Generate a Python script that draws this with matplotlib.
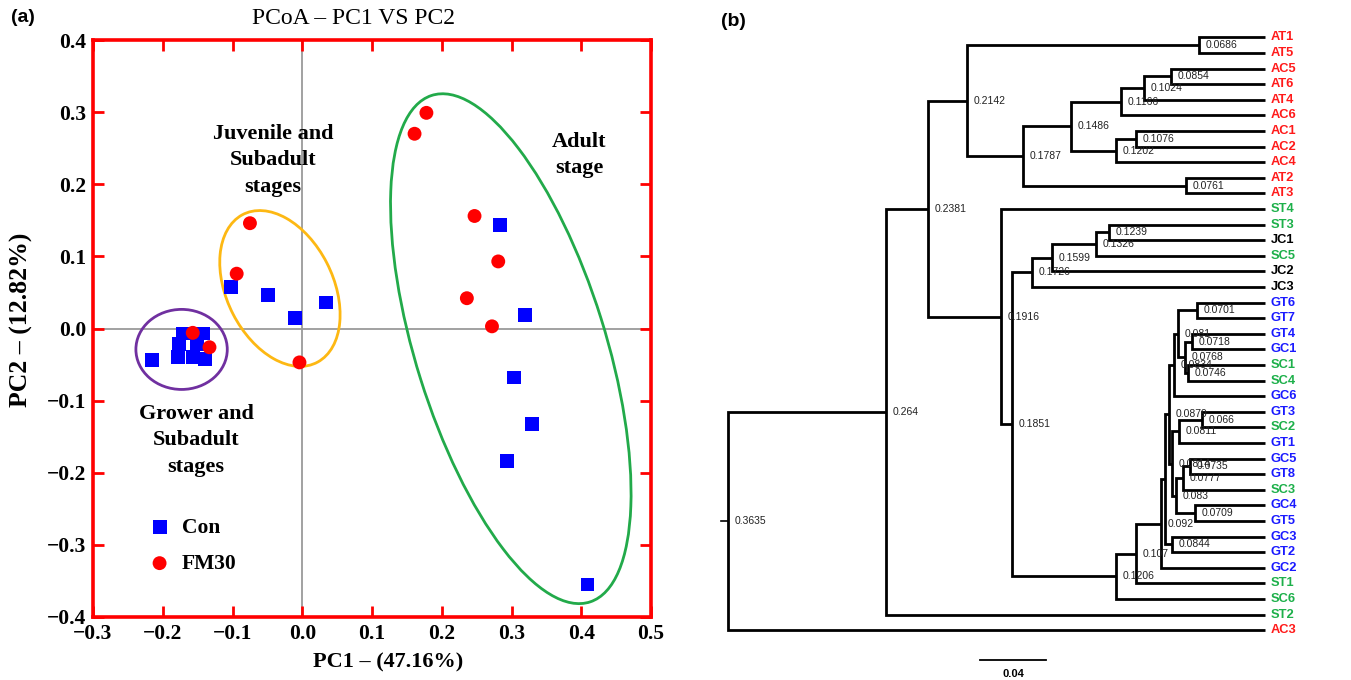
import matplotlib
matplotlib.use("Agg")
import matplotlib.pyplot as plt
from matplotlib.patches import Ellipse

W, H = 1351, 680
fig = plt.figure(figsize=(W / 100, H / 100), dpi=100)

SERIF = ["Liberation Serif", "DejaVu Serif"]
SANS = ["Liberation Sans", "DejaVu Sans"]

# ---------------- Panel (a) data ----------------
con_pc1 = [-0.215, -0.171, -0.142, -0.177, -0.151, -0.178, -0.156, -0.139,
           -0.102, -0.049, -0.010, 0.034,
           0.284, 0.319, 0.303, 0.329, 0.293, 0.409]
con_pc2 = [-0.044, -0.007, -0.007, -0.021, -0.021, -0.040, -0.040, -0.042,
           0.058, 0.047, 0.015, 0.036,
           0.144, 0.019, -0.068, -0.133, -0.184, -0.355]
fm_pc1 = [-0.157, -0.133, -0.075, -0.094, -0.004,
          0.161, 0.178, 0.247, 0.281, 0.236, 0.272]
fm_pc2 = [-0.006, -0.026, 0.146, 0.076, -0.047,
          0.270, 0.299, 0.156, 0.093, 0.042, 0.003]

x_ticks = [-0.3, -0.2, -0.1, 0.0, 0.1, 0.2, 0.3, 0.4, 0.5]
x_tick_labels = ["\u22120.3", "\u22120.2", "\u22120.1", "0.0", "0.1", "0.2", "0.3", "0.4", "0.5"]
y_ticks = [-0.4, -0.3, -0.2, -0.1, 0.0, 0.1, 0.2, 0.3, 0.4]
y_tick_labels = ["\u22120.4", "\u22120.3", "\u22120.2", "\u22120.1", "0.0", "0.1", "0.2", "0.3", "0.4"]

group_names = ["Grower and\nSubadult\nstages", "Juvenile and\nSubadult\nstages", "Adult\nstage"]
group_cx = [-0.173, -0.032, 0.299]
group_cy = [-0.029, 0.0555, -0.028]
group_w = [0.131, 0.231, 0.738]
group_h = [0.111, 0.152, 0.272]
group_angle = [0, -62, -72]
group_colors = ["#7030A0", "#FDB813", "#22AA4A"]
group_text_x = [-0.152, -0.042, 0.397]
group_text_y = [-0.155, 0.233, 0.241]

axL, axR, axT, axB = 93, 651, 40, 617
ax = fig.add_axes([axL / W, (H - axB) / H, (axR - axL) / W, (axB - axT) / H])
ax.set_xlim(-0.3, 0.5)
ax.set_ylim(-0.4, 0.4)
ax.axvline(0, color="#9a9a9a", lw=1.3, zorder=1)
ax.axhline(0, color="#9a9a9a", lw=1.3, zorder=1)

for cx, cy, w, h, a, c in zip(group_cx, group_cy, group_w, group_h, group_angle, group_colors):
    ax.add_patch(Ellipse((cx, cy), w, h, angle=a, fill=False, edgecolor=c, lw=2.0, zorder=2))

ax.scatter(con_pc1, con_pc2, marker="s", s=100, color="#0000FF", edgecolors="none", zorder=3, label="Con")
ax.scatter(fm_pc1, fm_pc2, marker="o", s=100, color="#FF0000", edgecolors="none", zorder=4, label="FM30")

for t, tx, ty in zip(group_names, group_text_x, group_text_y):
    ax.text(tx, ty, t, ha="center", va="center", family=SERIF, fontweight="bold",
            fontsize=16, linespacing=1.42)

ax.set_xticks(x_ticks)
ax.set_xticklabels(x_tick_labels)
ax.set_yticks(y_ticks)
ax.set_yticklabels(y_tick_labels)
ax.tick_params(direction="in", length=8, width=2, color="#FF0000", top=True, right=True, pad=5)
for lab in ax.get_xticklabels() + ax.get_yticklabels():
    lab.set_family(SERIF)
    lab.set_fontweight("bold")
    lab.set_fontsize(15.5)
for sp in ax.spines.values():
    sp.set_color("#FF0000")
    sp.set_linewidth(2.6)

ax.legend(loc="upper left", bbox_to_anchor=(0.046, 0.206), frameon=False,
          prop={"family": SERIF, "weight": "bold", "size": 15.5},
          handletextpad=0.05, labelspacing=0.75, scatterpoints=1)

fig.text(353 / W, 1 - 18 / H, "PCoA \u2013 PC1 VS PC2", ha="center", va="center",
         family=SERIF, fontsize=17)
fig.text(388 / W, 1 - 662 / H, "PC1 \u2013 (47.16%)", ha="center", va="center",
         family=SERIF, fontweight="bold", fontsize=16)
fig.text(21 / W, 1 - 320 / H, "PC2 \u2013 (12.82%)", ha="center", va="center", rotation=90,
         family=SERIF, fontweight="bold", fontsize=18.5)
fig.text(23 / W, 1 - 18 / H, "(a)", ha="center", va="center", family=SANS,
         fontweight="bold", fontsize=14)
fig.text(733 / W, 1 - 22 / H, "(b)", ha="center", va="center", family=SANS,
         fontweight="bold", fontsize=14)

# ---------------- Panel (b) data ----------------
leaves = ["AT1", "AT5", "AC5", "AT6", "AT4", "AC6", "AC1", "AC2", "AC4", "AT2", "AT3",
          "ST4", "ST3", "JC1", "SC5", "JC2", "JC3",
          "GT6", "GT7", "GT4", "GC1", "SC1", "SC4", "GC6", "GT3", "SC2", "GT1", "GC5",
          "GT8", "SC3", "GC4", "GT5", "GC3", "GT2", "GC2", "ST1", "SC6", "ST2", "AC3"]
leaf_group_colors = {"A": "#FF1A1A", "S": "#1DB04A", "J": "#000000", "G": "#1A1AFF"}

node_names = ["n0686", "n0854", "n1024", "n1166", "n1076", "n1202", "n1486", "n0761",
              "n1787", "n2142", "n1239", "n1326", "n1599", "n1726",
              "t0701", "t0718", "t0746", "t0768", "t081", "t0834", "t066", "t0811",
              "n0735", "n0777", "n0709", "n083", "z0814", "t0879", "n0844", "w",
              "n092", "n107", "n1206", "n1851", "n1916", "n2381", "n264", "root"]
node_left = ["AT1", "AC5", "n0854", "n1024", "AC1", "n1076", "n1166", "AT2",
             "n1486", "n0686", "ST3", "n1239", "n1326", "n1599",
             "GT6", "GT4", "SC1", "t0718", "t0701", "t081", "GT3", "t066",
             "GC5", "n0735", "GC4", "n0777", "t0811", "t0834", "GC3", "t0879",
             "w", "n092", "n107", "n1726", "ST4", "n2142", "n2381", "n264"]
node_right = ["AT5", "AT6", "AT4", "AC6", "AC2", "AC4", "n1202", "AT3",
              "n0761", "n1787", "JC1", "SC5", "JC2", "JC3",
              "GT7", "GC1", "SC4", "t0746", "t0768", "GC6", "SC2", "GT1",
              "GT8", "SC3", "GT5", "n0709", "n083", "z0814", "GT2", "n0844",
              "GC2", "ST1", "SC6", "n1206", "n1851", "n1916", "ST2", "AC3"]
node_height = [0.0400, 0.0570, 0.0733, 0.0873, 0.0782, 0.0903, 0.1176, 0.0479,
               0.1467, 0.1806, 0.0945, 0.1024, 0.1291, 0.1412,
               0.0412, 0.0442, 0.0467, 0.0485, 0.0527, 0.0552, 0.0382, 0.0521,
               0.0455, 0.0497, 0.0424, 0.0539, 0.0564, 0.0582, 0.0564, 0.0606,
               0.0630, 0.0782, 0.0903, 0.1533, 0.1600, 0.2042, 0.2297, 0.3255]
node_label = ["0.0686", "0.0854", "0.1024", "0.1166", "0.1076", "0.1202", "0.1486", "0.0761",
              "0.1787", "0.2142", "0.1239", "0.1326", "0.1599", "0.1726",
              "0.0701", "0.0718", "0.0746", "0.0768", "0.081", "0.0834", "0.066", "0.0811",
              "0.0735", "0.0777", "0.0709", "0.083", "0.0814", "0.0879", "0.0844", "",
              "0.092", "0.107", "0.1206", "0.1851", "0.1916", "0.2381", "0.264", "0.3635"]
root_stub = 0.004
scale_bar_length = 0.04
scale_bar_label = "0.04"

tipx, px_unit, row0, row_h = 1265, 1650.0, 37.5, 15.6
bx0 = 700
ax2 = fig.add_axes([bx0 / W, 0, (tipx - bx0) / W, 1])
ax2.set_xlim((tipx - bx0) / px_unit, 0)
ax2.set_ylim((H - row0) / row_h, -row0 / row_h)
ax2.axis("off")

pos_y = {name: i for i, name in enumerate(leaves)}
pos_h = {name: 0.0 for name in leaves}
for nm, l, r, h in zip(node_names, node_left, node_right, node_height):
    pos_y[nm] = (pos_y[l] + pos_y[r]) / 2.0
    pos_h[nm] = h

lw_tree = 2.0
for nm, l, r, h, lab in zip(node_names, node_left, node_right, node_height, node_label):
    ax2.plot([pos_h[l], h, h, pos_h[r]], [pos_y[l], pos_y[l], pos_y[r], pos_y[r]],
             color="black", lw=lw_tree, solid_joinstyle="miter", solid_capstyle="butt",
             clip_on=False)
    if lab:
        ax2.annotate(lab, (h, pos_y[nm]), xytext=(4.5, 0), textcoords="offset points",
                     ha="left", va="center", fontsize=7.5, family=SANS, color="#222222")

rt = node_names[-1]
ax2.plot([pos_h[rt], pos_h[rt] + root_stub], [pos_y[rt], pos_y[rt]], color="black",
         lw=1.2, clip_on=False)

for i, name in enumerate(leaves):
    ax2.annotate(name, (0, i), xytext=(4, 0), textcoords="offset points", ha="left",
                 va="center", fontsize=9.3, fontweight="bold", family=SANS,
                 color=leaf_group_colors[name[0]], annotation_clip=False)

sb_y = (660 - row0) / row_h
sb_start = (tipx - 980) / px_unit
ax2.plot([sb_start, sb_start - scale_bar_length], [sb_y, sb_y], color="black", lw=1.3,
         clip_on=False)
ax2.annotate(scale_bar_label, (sb_start - scale_bar_length / 2, sb_y), xytext=(0, -10),
             textcoords="offset points", ha="center", va="center", fontsize=8,
             fontweight="bold", family=SANS, annotation_clip=False)

fig.savefig("out.png", dpi=100)
